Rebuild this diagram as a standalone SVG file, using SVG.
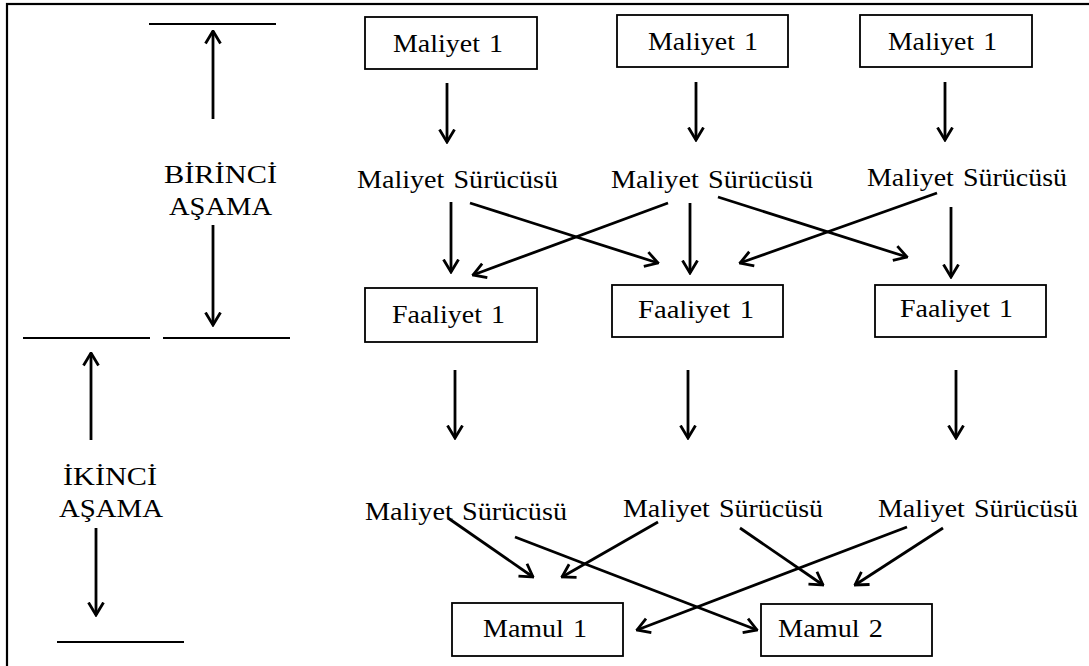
<svg xmlns="http://www.w3.org/2000/svg" width="1089" height="666" viewBox="0 0 1089 666">
<style>
.box{fill:#fff;stroke:#000;stroke-width:1.8}
.t{font-family:"Liberation Serif","Times New Roman",serif;font-size:26px;fill:#000;word-spacing:2px}
.c{stroke:#000;stroke-width:2.8;fill:none;marker-end:url(#ah)}
.h{stroke:#000;stroke-width:1.8;fill:none}
</style>
<defs>
<marker id="ah" markerUnits="userSpaceOnUse" viewBox="0 0 15 18" refX="13.5" refY="9" markerWidth="15" markerHeight="18" orient="auto">
<path d="M1,1.5 L13.5,9 L1,16.5" fill="none" stroke="#000" stroke-width="2.8"/>
</marker>
</defs>
<rect width="1089" height="666" fill="#fff"/>
<rect x="7" y="4" width="1120" height="700" fill="none" stroke="#000" stroke-width="2.2"/>

<g id="stage-labels">
<line class="h" x1="149" y1="24" x2="276" y2="24"/>
<line class="h" x1="23" y1="338" x2="150" y2="338"/>
<line class="h" x1="163" y1="338" x2="290" y2="338"/>
<line class="h" x1="57" y1="642" x2="184" y2="642"/>
<text class="t" x="164" y="183" textLength="113" lengthAdjust="spacingAndGlyphs">BİRİNCİ</text>
<text class="t" x="169" y="215" textLength="103" lengthAdjust="spacingAndGlyphs">AŞAMA</text>
<text class="t" x="63" y="485" textLength="94" lengthAdjust="spacingAndGlyphs">İKİNCİ</text>
<text class="t" x="59" y="517" textLength="104" lengthAdjust="spacingAndGlyphs">AŞAMA</text>
</g>

<g id="maliyet1-a"><rect class="box" x="365" y="17" width="172" height="52"/><text class="t" x="393" y="52" textLength="110" lengthAdjust="spacingAndGlyphs">Maliyet 1</text></g>
<g id="maliyet1-b"><rect class="box" x="617" y="15" width="171" height="52"/><text class="t" x="648" y="50" textLength="110" lengthAdjust="spacingAndGlyphs">Maliyet 1</text></g>
<g id="maliyet1-c"><rect class="box" x="860" y="15" width="172" height="52"/><text class="t" x="888" y="50" textLength="109" lengthAdjust="spacingAndGlyphs">Maliyet 1</text></g>

<g id="surucu1-a"><text class="t" x="357" y="188" textLength="201" lengthAdjust="spacingAndGlyphs">Maliyet Sürücüsü</text></g>
<g id="surucu1-b"><text class="t" x="611" y="188" textLength="202" lengthAdjust="spacingAndGlyphs">Maliyet Sürücüsü</text></g>
<g id="surucu1-c"><text class="t" x="867" y="186" textLength="200" lengthAdjust="spacingAndGlyphs">Maliyet Sürücüsü</text></g>

<g id="faaliyet1-a"><rect class="box" x="365" y="288" width="172" height="54"/><text class="t" x="392" y="323" textLength="113" lengthAdjust="spacingAndGlyphs">Faaliyet 1</text></g>
<g id="faaliyet1-b"><rect class="box" x="612" y="285" width="171" height="52"/><text class="t" x="638" y="318" textLength="116" lengthAdjust="spacingAndGlyphs">Faaliyet 1</text></g>
<g id="faaliyet1-c"><rect class="box" x="875" y="285" width="171" height="52"/><text class="t" x="900" y="317" textLength="113" lengthAdjust="spacingAndGlyphs">Faaliyet 1</text></g>

<g id="surucu2-a"><text class="t" x="365" y="520" textLength="202" lengthAdjust="spacingAndGlyphs">Maliyet Sürücüsü</text></g>
<g id="surucu2-b"><text class="t" x="623" y="517" textLength="200" lengthAdjust="spacingAndGlyphs">Maliyet Sürücüsü</text></g>
<g id="surucu2-c"><text class="t" x="878" y="517" textLength="200" lengthAdjust="spacingAndGlyphs">Maliyet Sürücüsü</text></g>

<g id="mamul1"><rect class="box" x="452" y="603" width="171" height="53"/><text class="t" x="483" y="637" textLength="104" lengthAdjust="spacingAndGlyphs">Mamul 1</text></g>
<g id="mamul2"><rect class="box" x="761" y="604" width="171" height="52"/><text class="t" x="778" y="637" textLength="105" lengthAdjust="spacingAndGlyphs">Mamul 2</text></g>

<g id="connectors">
<line class="c" x1="213" y1="119" x2="213" y2="31"/>
<line class="c" x1="213" y1="225" x2="213" y2="325"/>
<line class="c" x1="91" y1="440" x2="91" y2="353"/>
<line class="c" x1="96" y1="528" x2="96" y2="615"/>

<line class="c" x1="447" y1="83" x2="447" y2="142"/>
<line class="c" x1="696" y1="82" x2="696" y2="140"/>
<line class="c" x1="945" y1="82" x2="945" y2="140"/>

<line class="c" x1="451" y1="202" x2="451" y2="272"/>
<line class="c" x1="470" y1="203" x2="658" y2="263"/>
<line class="c" x1="690" y1="203" x2="690" y2="273"/>
<line class="c" x1="668" y1="203" x2="473" y2="275"/>
<line class="c" x1="718" y1="197" x2="907" y2="257"/>
<line class="c" x1="937" y1="193" x2="740" y2="263"/>
<line class="c" x1="951" y1="207" x2="951" y2="277"/>

<line class="c" x1="455" y1="370" x2="455" y2="438"/>
<line class="c" x1="688" y1="370" x2="688" y2="438"/>
<line class="c" x1="956" y1="370" x2="956" y2="438"/>

<line class="c" x1="448" y1="518" x2="533" y2="577"/>
<line class="c" x1="658" y1="522" x2="562" y2="577"/>
<line class="c" x1="515" y1="537" x2="757" y2="630"/>
<line class="c" x1="907" y1="527" x2="637" y2="630"/>
<line class="c" x1="740" y1="528" x2="823" y2="585"/>
<line class="c" x1="943" y1="528" x2="855" y2="585"/>
</g>
</svg>
